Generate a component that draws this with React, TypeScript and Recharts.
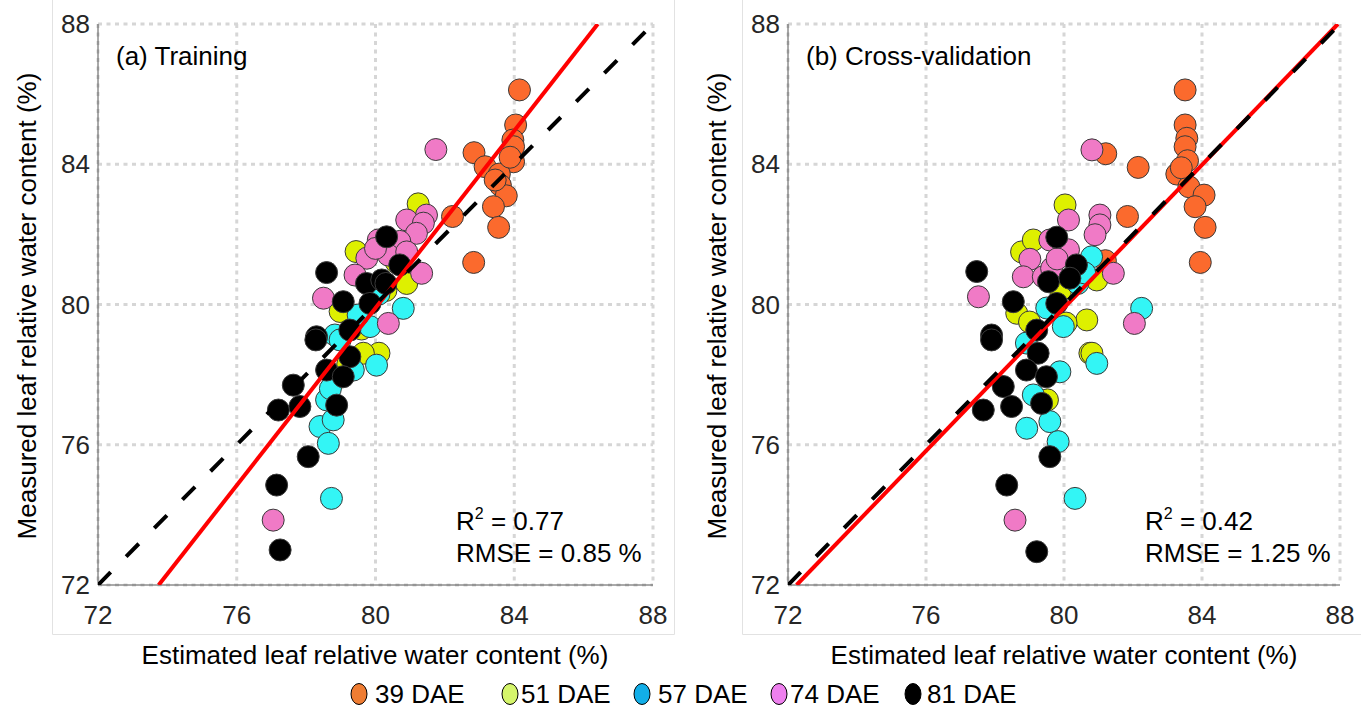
import React from 'react';
import { ScatterChart, Scatter, XAxis, YAxis, CartesianGrid } from 'recharts';

const axisTicks = [72, 76, 80, 84, 88];
const axisDomain: [number, number] = [72, 88];

const seriesNames = ['39 DAE', '51 DAE', '57 DAE', '74 DAE', '81 DAE'];
const markerColors = ['#fb6a2d', '#def000', '#33f5f5', '#f07ac6', '#000000'];
const legendColors = ['#ef7d33', '#d5f56b', '#12aee8', '#ee80ee', '#000000'];

// (a) Training: [estimated, measured]
const train39 = [[84.15, 86.12], [84.04, 85.12], [83.96, 84.69], [83.98, 84.5], [83.98, 84.07], [82.84, 84.33], [83.16, 83.93], [83.57, 83.72], [83.6, 83.4], [83.77, 83.1], [83.4, 82.79], [83.55, 82.2], [82.83, 81.2], [82.22, 82.51], [83.88, 84.2], [83.45, 83.55]];
const train51 = [[81.23, 82.87], [79.44, 81.51], [80.9, 80.6], [78.98, 79.8], [80.1, 78.61], [79.65, 78.61], [78.83, 77.85], [79.6, 79.3], [80.3, 80.4], [79.2, 78.3], [80.6, 81.2], [78.9, 79.1]];
const train57 = [[80.8, 79.89], [79.84, 79.37], [78.83, 79.13], [78.98, 78.99], [80.03, 78.27], [79.36, 78.13], [78.59, 77.28], [78.4, 76.52], [78.78, 76.71], [78.64, 76.04], [78.73, 74.47], [79.5, 79.7], [80.1, 80.3], [78.7, 77.6]];
const train74 = [[81.74, 84.42], [81.47, 82.55], [80.9, 82.41], [81.38, 82.32], [81.18, 82.03], [80.08, 81.84], [80.7, 81.8], [79.75, 81.32], [80.37, 81.41], [81.33, 80.89], [79.41, 80.84], [78.5, 80.18], [80.37, 79.46], [77.05, 73.85], [80.0, 81.6], [80.9, 81.5]];
const train81 = [[80.32, 81.93], [80.7, 81.13], [78.59, 80.91], [79.74, 80.6], [80.18, 80.7], [79.07, 80.08], [79.84, 80.03], [78.3, 79.08], [79.26, 79.27], [79.26, 78.51], [78.59, 78.13], [79.07, 77.94], [77.63, 77.7], [77.82, 77.09], [77.2, 76.99], [78.88, 77.13], [78.06, 75.66], [77.15, 74.85], [77.25, 73.0], [78.28, 78.99], [80.3, 80.6]];

// (b) Cross-validation: [estimated, measured]
const cv39 = [[83.51, 86.12], [83.51, 85.12], [83.56, 84.74], [83.51, 84.5], [83.58, 84.1], [83.27, 83.72], [83.62, 83.36], [84.06, 83.12], [83.8, 82.79], [84.09, 82.2], [83.95, 81.2], [82.15, 83.91], [81.21, 84.3], [81.84, 82.51], [81.2, 81.25], [83.4, 83.9]];
const cv51 = [[80.03, 82.84], [78.77, 81.5], [79.11, 81.84], [78.63, 79.75], [80.66, 79.56], [80.75, 78.61], [80.95, 80.7], [79.52, 77.28], [80.06, 79.47], [80.81, 78.61], [79.0, 79.5], [79.9, 80.4]];
const cv57 = [[80.8, 81.36], [79.98, 79.37], [80.95, 78.32], [78.91, 78.9], [79.88, 78.08], [79.11, 77.42], [78.92, 76.47], [79.59, 76.66], [79.83, 76.09], [80.32, 74.47], [82.25, 79.89], [80.4, 80.6], [79.5, 79.9], [80.6, 80.9]];
const cv74 = [[80.81, 84.41], [80.13, 82.41], [81.04, 82.55], [81.04, 82.27], [80.9, 81.99], [79.59, 81.84], [79.01, 81.29], [80.13, 81.56], [78.82, 80.79], [79.4, 80.79], [79.64, 81.03], [77.52, 80.22], [81.43, 80.89], [82.04, 79.46], [78.58, 73.85], [79.8, 81.3]];
const cv81 = [[79.79, 81.92], [80.36, 81.13], [79.55, 80.65], [80.17, 80.75], [77.47, 80.94], [78.53, 80.08], [79.79, 80.03], [77.9, 79.13], [77.9, 78.99], [79.21, 79.27], [79.25, 78.61], [78.91, 78.13], [79.49, 77.94], [78.24, 77.66], [77.66, 76.99], [78.48, 77.09], [79.35, 77.18], [79.59, 75.66], [78.34, 74.85], [79.21, 72.95]];

const trainFit = { slope: 1.264, intercept: -21.22 };
const cvFit = { slope: 1.0198, intercept: -1.68 };
const oneToOne = { slope: 1, intercept: 0 };

const trainGroups = [train39, train51, train57, train74, train81];
const cvGroups = [cv39, cv51, cv57, cv74, cv81];

const FONT = '"Liberation Sans", Arial, Helvetica, sans-serif';

const toPoints = (arr: number[][]) => arr.map(([x, y]) => ({ x, y }));

const fitSegment = (fit: { slope: number; intercept: number }) => {
  const [lo, hi] = axisDomain;
  let x0 = (lo - fit.intercept) / fit.slope;
  let x1 = (hi - fit.intercept) / fit.slope;
  x0 = Math.max(lo, Math.min(hi, x0));
  x1 = Math.max(lo, Math.min(hi, x1));
  return [
    { x: x0, y: fit.slope * x0 + fit.intercept },
    { x: x1, y: fit.slope * x1 + fit.intercept },
  ];
};

const makeDot = (fill: string) => (props: any) => (
  <circle cx={props.cx} cy={props.cy} r={11} fill={fill} stroke="#3a3a3a" strokeWidth={1} />
);
const noShape = () => <g />;

type PanelProps = {
  left: number;
  width: number;
  marginRight: number;
  groups: number[][][];
  fit: { slope: number; intercept: number };
};

function Panel({ left, width, marginRight, groups, fit }: PanelProps) {
  return (
    <div style={{ position: 'absolute', left, top: 0 }}>
      <ScatterChart width={width} height={640} margin={{ top: 24, right: marginRight, bottom: 0, left: 0 }}>
        <CartesianGrid stroke="#d6d6d6" strokeWidth={3} strokeDasharray="4 4.5" />
        <XAxis
          type="number"
          dataKey="x"
          domain={axisDomain}
          ticks={axisTicks}
          allowDataOverflow
          height={55}
          tickLine={false}
          tickSize={0}
          tickMargin={21}
          axisLine={{ stroke: '#555555', strokeWidth: 1 }}
          tick={{ fontSize: 26, fill: '#262626', fontFamily: FONT }}
        />
        <YAxis
          type="number"
          dataKey="y"
          domain={axisDomain}
          ticks={axisTicks}
          allowDataOverflow
          width={98}
          tickLine={false}
          tickSize={0}
          tickMargin={8}
          axisLine={{ stroke: '#555555', strokeWidth: 1 }}
          tick={{ fontSize: 26, fill: '#262626', fontFamily: FONT }}
        />
        {groups.map((g, i) => (
          <Scatter
            key={seriesNames[i]}
            name={seriesNames[i]}
            data={toPoints(g)}
            shape={makeDot(markerColors[i])}
            isAnimationActive={false}
          />
        ))}
        <Scatter
          name="fit"
          data={fitSegment(fit)}
          line={{ stroke: '#ff0000', strokeWidth: 4 }}
          shape={noShape}
          isAnimationActive={false}
        />
        <Scatter
          name="1:1"
          data={fitSegment(oneToOne)}
          line={{ stroke: '#000000', strokeWidth: 4, strokeDasharray: '18 22' }}
          shape={noShape}
          isAnimationActive={false}
        />
      </ScatterChart>
    </div>
  );
}

function Annot({ x, title, r2, rmse }: { x: number; title: string; r2: string; rmse: string }) {
  return null;
}

export default function App() {
  const legendItems = [
    { mx: 359, tx: 375 },
    { mx: 510, tx: 521 },
    { mx: 642, tx: 658 },
    { mx: 779, tx: 790 },
    { mx: 913, tx: 927 },
  ];
  const yTitle = 'Measured leaf relative water content (%)';
  const xTitle = 'Estimated leaf relative water content (%)';
  return (
    <div style={{ position: 'absolute', left: 0, top: 0, width: 1361, height: 710, overflow: 'hidden', background: '#fff', fontFamily: FONT }}>
      <Panel left={0} width={680} marginRight={27} groups={trainGroups} fit={trainFit} />
      <Panel left={690} width={671} marginRight={21} groups={cvGroups} fit={cvFit} />
      <svg width={1361} height={710} style={{ position: 'absolute', left: 0, top: 0, pointerEvents: 'none' }} fontFamily={FONT}>
        <polyline points="52.5,0 52.5,634.5 674.5,634.5 674.5,0" fill="none" stroke="#e2e2e2" strokeWidth={1} />
        <polyline points="742.5,0 742.5,634.5 1361,634.5" fill="none" stroke="#e2e2e2" strokeWidth={1} />

        <text transform="translate(27,306) rotate(-90)" textAnchor="middle" dominantBaseline="central" fontSize={26} fill="#000">{yTitle}</text>
        <text transform="translate(717,306) rotate(-90)" textAnchor="middle" dominantBaseline="central" fontSize={26} fill="#000">{yTitle}</text>
        <text x={375} y={655} textAnchor="middle" dominantBaseline="central" fontSize={26} fill="#000">{xTitle}</text>
        <text x={1064} y={655} textAnchor="middle" dominantBaseline="central" fontSize={26} fill="#000">{xTitle}</text>

        <text x={116} y={65} fontSize={26} fill="#000">(a) Training</text>
        <text x={456} y={530} fontSize={26} fill="#000">R<tspan fontSize={16} dy={-11}>2</tspan><tspan dy={11}> = 0.77</tspan></text>
        <text x={456} y={562} fontSize={26} fill="#000">RMSE = 0.85 %</text>

        <text x={806} y={65} fontSize={26} fill="#000">(b) Cross-validation</text>
        <text x={1145} y={530} fontSize={26} fill="#000">R<tspan fontSize={16} dy={-11}>2</tspan><tspan dy={11}> = 0.42</tspan></text>
        <text x={1145} y={562} fontSize={26} fill="#000">RMSE = 1.25 %</text>

        {legendItems.map((it, i) => (
          <g key={seriesNames[i]}>
            <ellipse cx={it.mx} cy={694} rx={8} ry={10.5} fill={legendColors[i]} stroke="#000" strokeWidth={1} />
            <text x={it.tx} y={694} dominantBaseline="central" fontSize={26} fill="#000">{seriesNames[i]}</text>
          </g>
        ))}
      </svg>
    </div>
  );
}
